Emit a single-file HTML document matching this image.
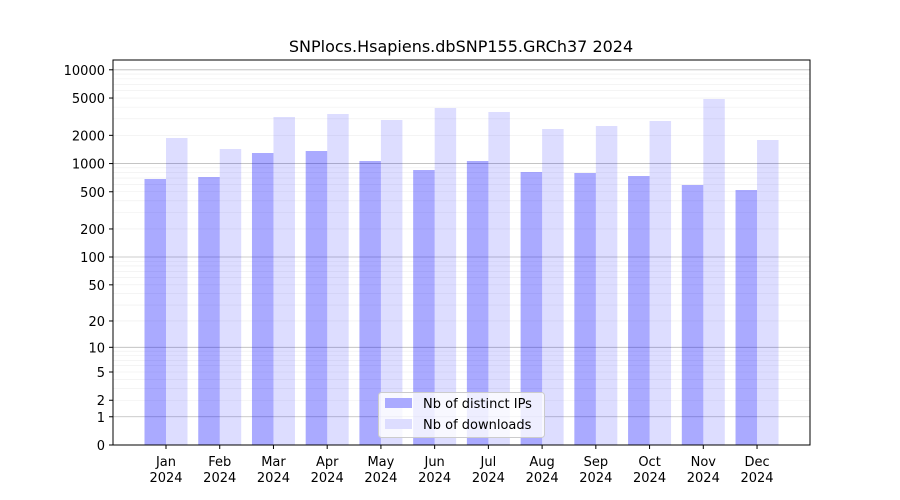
<!DOCTYPE html>
<html><head><meta charset="utf-8"><style>body{margin:0;background:#fff}svg{display:block}text{font-family:"DejaVu Sans","Liberation Sans",sans-serif;fill:#000}</style></head>
<body>
<svg width="900" height="500" xmlns="http://www.w3.org/2000/svg">
<rect width="900" height="500" fill="#fff"/>
<g id="grid"></g>
<g id="bars"></g>
<rect x="113" y="60" width="697" height="385" fill="none" stroke="#000" stroke-width="1"/>
<g id="ticks" font-size="13"></g>
<text x="461" y="52" font-size="16" text-anchor="middle">SNPlocs.Hsapiens.dbSNP155.GRCh37 2024</text>
<g>
<rect x="378.5" y="392.5" width="166" height="45" rx="3" fill="#fff" fill-opacity="0.8" stroke="#ccc"/>
<rect x="385" y="398" width="27" height="10" fill="#aaaaff"/>
<text x="423" y="408" font-size="13">Nb of distinct IPs</text>
<rect x="385" y="419" width="27" height="10" fill="#ddddff"/>
<text x="423" y="429" font-size="13">Nb of downloads</text>
</g>
<script>
var ns="http://www.w3.org/2000/svg";
function Y(v){return 445-93.8*Math.log10(1+v);}
function el(p,t,a,txt){var e=document.createElementNS(ns,t);for(var k in a)e.setAttribute(k,a[k]);if(txt!=null)e.textContent=txt;document.getElementById(p).appendChild(e);return e;}
for(var d=1;d<=1000;d*=10){for(var m=1;m<10;m++){var v=d*m;var y=Y(v);if(y<60)continue;
el("grid","line",{x1:113,x2:810,y1:y,y2:y,stroke:m==1?"#bbb":"#eee","stroke-width":m==1?0.8:0.6});}}
el("grid","line",{x1:113,x2:810,y1:Y(10000),y2:Y(10000),stroke:"#bbb","stroke-width":0.8});
var ipT=[179,177,153,151,161,170,161,172,173,176,185,190];
var dlT=[138,149,117,114,120,108,112,129,126,121,99,140];
var mo=["Jan","Feb","Mar","Apr","May","Jun","Jul","Aug","Sep","Oct","Nov","Dec"];
for(var i=0;i<12;i++){var c=166+i*53.73;
el("bars","rect",{x:c-21.5,y:ipT[i],width:21.5,height:445-ipT[i],fill:"#0000ff","fill-opacity":0.333});
el("bars","rect",{x:c,y:dlT[i],width:21.5,height:445-dlT[i],fill:"#0000ff","fill-opacity":0.133});
el("ticks","line",{x1:c,x2:c,y1:445,y2:449,stroke:"#000"});
el("ticks","text",{x:c,y:466,"text-anchor":"middle"},mo[i]);
el("ticks","text",{x:c,y:482,"text-anchor":"middle"},"2024");}
[0,1,2,5,10,20,50,100,200,500,1000,2000,5000,10000].forEach(function(v){var y=Y(v);
el("ticks","line",{x1:109,x2:113,y1:y,y2:y,stroke:"#000"});
el("ticks","text",{x:105,y:y+5,"text-anchor":"end"},String(v));});
</script>
</svg>
</body></html>
